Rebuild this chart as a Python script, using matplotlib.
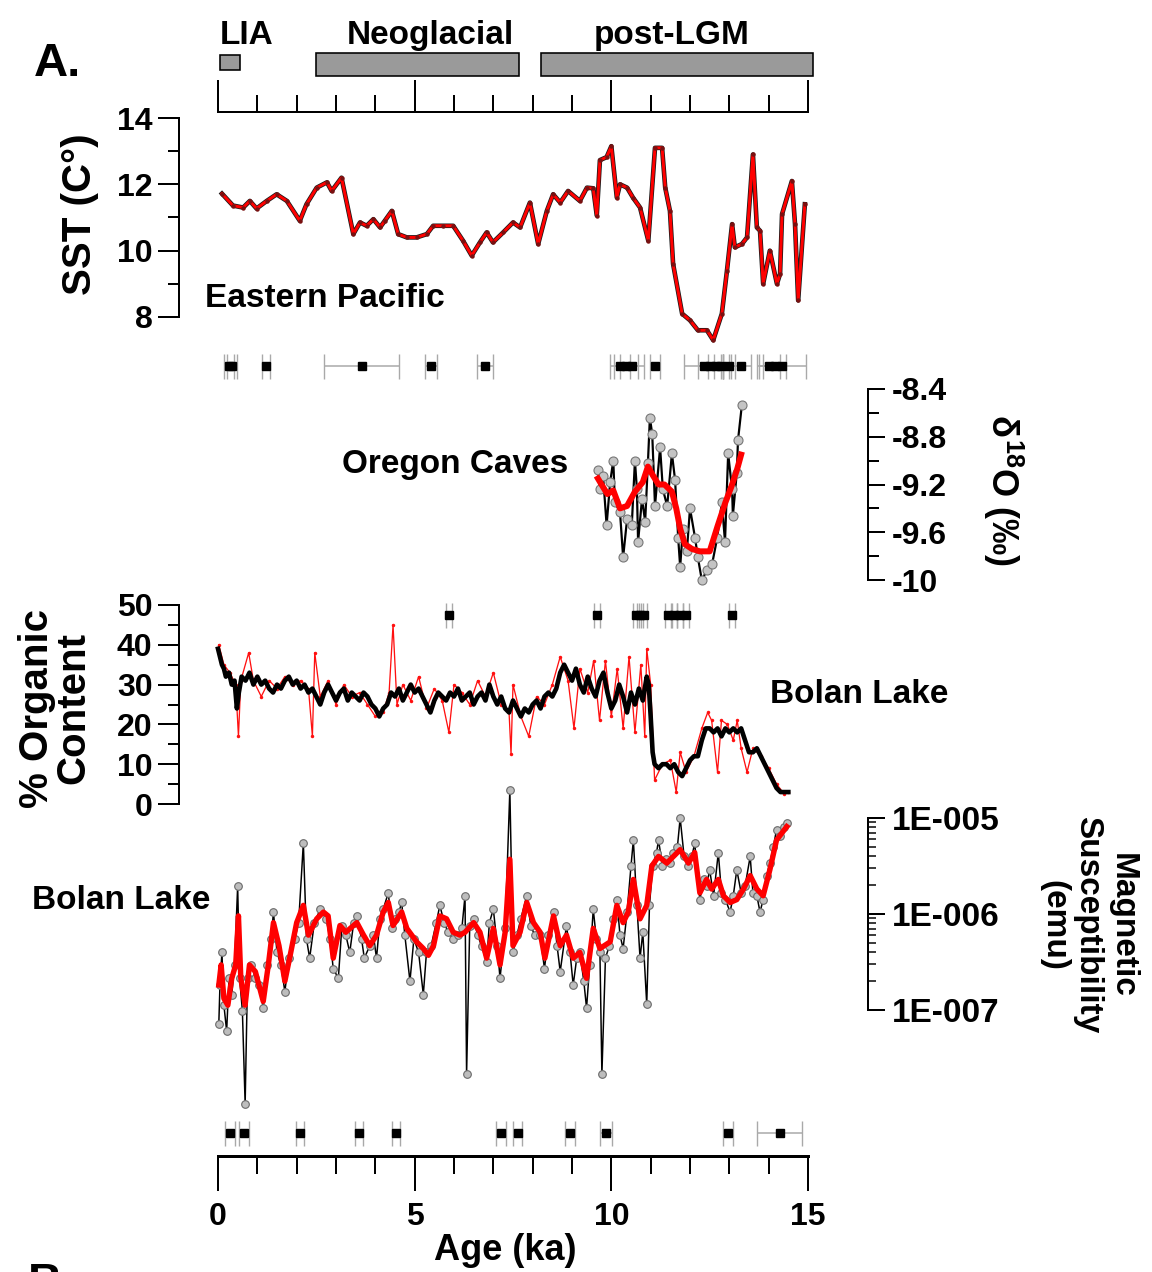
import matplotlib
matplotlib.use('Agg')
import matplotlib.pyplot as plt
from matplotlib.ticker import FixedLocator, FixedFormatter, NullFormatter

plt.rcParams['font.family'] = ['Liberation Sans', 'DejaVu Sans']
plt.rcParams['font.weight'] = 'bold'
plt.rcParams['axes.unicode_minus'] = False
plt.rcParams['mathtext.fontset'] = 'custom'
plt.rcParams['mathtext.rm'] = 'Liberation Sans:bold'
plt.rcParams['mathtext.it'] = 'Liberation Sans:bold'
plt.rcParams['mathtext.bf'] = 'Liberation Sans:bold'

# ---------------- data ----------------
period_names = ["LIA", "Neoglacial", "post-LGM"]
period_start = [0.05, 2.50, 8.20]
period_end = [0.55, 7.65, 15.12]

age_ticks_major = [0, 5, 10, 15]
age_ticks_minor = [1, 2, 3, 4, 6, 7, 8, 9, 11, 12, 13, 14]

sst_age = [0.10, 0.38, 0.64, 0.81, 0.98, 1.24, 1.49, 1.75, 2.08, 2.25, 2.51, 2.77, 2.89, 3.14,
           3.44, 3.61, 3.78, 3.95, 4.12, 4.24, 4.42, 4.58, 4.80, 5.05, 5.31, 5.47, 5.72, 5.98,
           6.23, 6.45, 6.66, 6.83, 6.99, 7.25, 7.50, 7.68, 7.93, 8.14, 8.36, 8.52, 8.70, 8.90,
           9.20, 9.38, 9.54, 9.63, 9.71, 9.88, 10.00, 10.14, 10.22, 10.40, 10.55, 10.73, 10.94,
           11.11, 11.29, 11.37, 11.49, 11.57, 11.80, 12.00, 12.20, 12.43, 12.59, 12.81, 12.94,
           13.07, 13.14, 13.32, 13.45, 13.60, 13.70, 13.78, 13.86, 14.03, 14.21, 14.29, 14.34,
           14.59, 14.67, 14.75, 14.92]
sst_val = [11.72, 11.36, 11.30, 11.50, 11.27, 11.50, 11.70, 11.50, 10.90, 11.40, 11.90, 12.06,
           11.80, 12.20, 10.50, 10.85, 10.75, 10.95, 10.70, 10.90, 11.20, 10.50, 10.40, 10.40,
           10.50, 10.75, 10.75, 10.75, 10.30, 9.85, 10.25, 10.55, 10.25, 10.55, 10.85, 10.70,
           11.45, 10.20, 11.20, 11.70, 11.45, 11.80, 11.50, 11.90, 11.88, 11.06, 12.73, 12.82,
           13.15, 11.60, 12.00, 11.90, 11.60, 11.30, 10.30, 13.10, 13.10, 11.90, 11.20, 9.60,
           8.10, 7.90, 7.60, 7.60, 7.30, 8.10, 9.40, 10.80, 10.10, 10.20, 10.40, 12.90, 10.70,
           10.60, 9.00, 10.00, 9.00, 9.30, 11.10, 12.10, 10.80, 8.50, 11.40]
sst_ticks = [8, 10, 12, 14]
sst_minor = [9, 11, 13]

sst_dates = [0.28, 0.36, 1.22, 3.65, 5.42, 6.79, 10.22, 10.38, 10.53, 11.11, 12.35, 12.50,
             12.65, 12.80, 13.00, 13.30, 14.00, 14.15, 14.35]
sst_date_err = [0.12, 0.12, 0.10, 0.95, 0.15, 0.20, 0.25, 0.30, 0.30, 0.12, 0.50, 0.30,
                0.20, 0.20, 0.15, 0.25, 0.30, 0.30, 0.60]

oc_age = [9.66, 9.71, 9.79, 9.88, 9.97, 10.05, 10.09, 10.22, 10.30, 10.40, 10.52, 10.60, 10.65,
          10.68, 10.78, 10.86, 10.93, 10.98, 11.04, 11.11, 11.24, 11.31, 11.42, 11.54, 11.62,
          11.70, 11.75, 11.82, 11.92, 12.00, 12.13, 12.20, 12.30, 12.43, 12.56, 12.69, 12.81,
          12.89, 12.97, 13.07, 13.09, 13.19, 13.22, 13.32]
oc_val = [-9.08, -9.24, -9.13, -9.54, -9.18, -9.00, -9.35, -9.43, -9.81, -9.49, -9.54, -9.00,
          -9.24, -9.68, -9.32, -9.51, -9.02, -8.64, -8.78, -9.38, -8.89, -9.24, -9.38, -8.94,
          -9.16, -9.65, -9.89, -9.57, -9.76, -9.40, -9.65, -9.81, -10.00, -9.92, -9.87, -9.65,
          -9.35, -9.68, -8.94, -9.24, -9.46, -9.10, -8.83, -8.53]
oc_smooth_age = [9.66, 9.75, 9.90, 10.05, 10.22, 10.40, 10.60, 10.80, 10.93, 11.05, 11.20, 11.35,
                 11.54, 11.65, 11.75, 11.87, 12.05, 12.25, 12.50, 12.70, 12.90, 13.05, 13.20, 13.30]
oc_smooth_val = [-9.15, -9.20, -9.28, -9.25, -9.40, -9.38, -9.26, -9.18, -9.05, -9.12, -9.20,
                 -9.20, -9.26, -9.40, -9.57, -9.70, -9.74, -9.76, -9.76, -9.55, -9.35, -9.22,
                 -9.07, -8.95]
oc_ticks = [-10, -9.6, -9.2, -8.8, -8.4]
oc_ticklabels = ["-10", "-9.6", "-9.2", "-8.8", "-8.4"]
oc_minor = [-9.8, -9.4, -9.0, -8.6]

org_smooth = [(0.00, 39), (0.05, 37), (0.10, 35), (0.15, 34), (0.20, 32), (0.28, 33), (0.35, 30),
              (0.42, 31), (0.48, 24), (0.53, 28), (0.60, 32), (0.70, 31), (0.80, 33), (0.90, 30),
              (1.00, 32), (1.10, 30), (1.20, 31), (1.30, 29), (1.40, 28), (1.50, 30), (1.60, 29),
              (1.70, 31), (1.80, 32), (1.90, 30), (2.00, 31), (2.10, 29), (2.20, 30), (2.30, 28),
              (2.40, 29), (2.50, 27), (2.60, 25), (2.70, 28), (2.80, 30), (2.90, 28), (3.00, 26),
              (3.10, 28), (3.20, 29), (3.30, 26), (3.40, 28), (3.50, 27), (3.60, 26), (3.70, 28),
              (3.80, 27), (3.90, 25), (4.00, 24), (4.10, 22), (4.20, 24), (4.30, 25), (4.40, 28),
              (4.50, 27), (4.60, 29), (4.70, 26), (4.80, 28), (4.90, 30), (5.00, 28), (5.10, 29),
              (5.20, 27), (5.30, 25), (5.40, 23), (5.50, 26), (5.60, 28), (5.70, 27), (5.80, 26),
              (5.90, 28), (6.00, 27), (6.10, 29), (6.20, 26), (6.30, 27), (6.40, 28), (6.50, 25),
              (6.60, 27), (6.70, 28), (6.80, 26), (6.90, 30), (7.00, 27), (7.10, 25), (7.20, 27),
              (7.30, 24), (7.40, 23), (7.50, 26), (7.60, 24), (7.70, 22), (7.80, 24), (7.90, 23),
              (8.00, 25), (8.10, 26), (8.20, 24), (8.30, 27), (8.40, 28), (8.50, 27), (8.60, 29),
              (8.70, 33), (8.80, 35), (8.90, 33), (9.00, 31), (9.10, 34), (9.20, 30), (9.30, 28),
              (9.40, 32), (9.50, 29), (9.60, 27), (9.70, 31), (9.80, 33), (9.90, 28), (10.00, 24),
              (10.10, 26), (10.20, 30), (10.30, 27), (10.40, 23), (10.50, 28), (10.60, 25),
              (10.70, 29), (10.80, 26), (10.90, 32), (10.95, 30), (11.00, 22), (11.05, 13),
              (11.10, 10), (11.20, 9), (11.30, 10), (11.40, 10), (11.50, 9), (11.60, 10),
              (11.70, 8), (11.80, 7), (11.90, 9), (12.00, 11), (12.10, 12), (12.20, 12),
              (12.30, 16), (12.40, 19), (12.50, 19), (12.60, 18), (12.70, 19), (12.80, 17),
              (12.90, 19), (13.00, 18), (13.10, 19), (13.20, 18), (13.30, 19), (13.40, 16),
              (13.50, 13), (13.60, 13), (13.70, 14), (13.80, 12), (13.90, 10), (14.00, 8),
              (14.10, 6), (14.20, 4), (14.30, 3), (14.40, 3), (14.50, 3)]
org_raw = [(0.02, 40), (0.15, 35), (0.30, 33), (0.45, 30), (0.52, 17), (0.58, 31), (0.78, 38),
           (0.90, 31), (1.10, 27), (1.30, 31), (1.50, 29), (1.70, 32), (1.90, 30), (2.10, 31),
           (2.30, 29), (2.40, 17), (2.46, 38), (2.60, 27), (2.80, 31), (3.00, 25), (3.20, 30),
           (3.40, 27), (3.60, 28), (3.80, 25), (4.00, 22), (4.20, 23), (4.35, 28), (4.45, 45),
           (4.55, 25), (4.70, 30), (4.90, 26), (5.10, 32), (5.30, 24), (5.50, 29), (5.70, 26),
           (5.87, 18), (6.00, 30), (6.20, 28), (6.40, 25), (6.60, 31), (6.80, 27), (7.00, 33),
           (7.20, 25), (7.40, 23), (7.45, 12.5), (7.50, 30), (7.70, 22), (7.90, 17), (8.10, 27),
           (8.30, 25), (8.50, 30), (8.70, 37), (8.90, 31), (9.05, 19), (9.20, 34), (9.40, 28),
           (9.55, 36), (9.70, 21), (9.85, 36), (10.00, 22), (10.15, 34), (10.30, 19), (10.45, 37),
           (10.60, 18), (10.75, 35), (10.85, 17), (10.90, 39), (11.00, 30), (11.10, 6),
           (11.30, 10), (11.50, 11), (11.65, 3), (11.75, 13), (11.90, 8), (12.10, 12),
           (12.30, 19), (12.45, 23), (12.55, 21), (12.70, 8), (12.80, 21), (12.95, 20),
           (13.10, 16), (13.20, 21), (13.30, 14), (13.45, 8), (13.60, 14), (13.80, 12),
           (14.00, 9), (14.20, 5), (14.40, 2.5), (14.50, 3)]
org_ticks = [0, 10, 20, 30, 40, 50]
org_minor = [5, 15, 25, 35, 45]

org_dates = [5.87, 9.64, 10.62, 10.72, 10.83, 11.45, 11.60, 11.75, 11.90, 13.07]
org_date_err = [0.08, 0.08, 0.08, 0.08, 0.08, 0.08, 0.08, 0.08, 0.08, 0.08]

# magnetic susceptibility, log10(emu)
mag_raw = [(0.02, -7.15), (0.05, -6.74), (0.10, -6.40), (0.15, -6.95), (0.22, -7.22),
           (0.28, -6.67), (0.35, -6.84), (0.42, -6.53), (0.50, -5.71), (0.55, -6.67),
           (0.62, -7.01), (0.69, -7.98), (0.75, -6.67), (0.85, -6.53), (0.95, -6.67),
           (1.05, -6.74), (1.15, -6.98), (1.25, -6.53), (1.35, -6.26), (1.41, -5.98),
           (1.50, -6.40), (1.60, -6.53), (1.70, -6.81), (1.80, -6.46), (1.95, -6.26),
           (2.05, -6.09), (2.17, -5.26), (2.25, -6.26), (2.33, -6.46), (2.45, -6.09),
           (2.60, -5.95), (2.75, -6.05), (2.85, -6.26), (2.93, -6.57), (3.06, -6.67),
           (3.15, -6.12), (3.25, -6.22), (3.35, -6.40), (3.45, -6.09), (3.53, -6.02),
           (3.65, -6.26), (3.72, -6.46), (3.86, -6.33), (3.95, -6.22), (4.03, -6.46),
           (4.12, -6.05), (4.20, -5.95), (4.33, -5.78), (4.42, -6.15), (4.50, -6.05),
           (4.60, -5.98), (4.67, -5.88), (4.75, -6.22), (4.88, -6.70), (4.98, -6.26),
           (5.10, -6.40), (5.22, -6.84), (5.30, -6.40), (5.42, -6.33), (5.55, -6.09),
           (5.64, -5.91), (5.75, -6.09), (5.85, -6.19), (5.98, -6.26), (6.10, -6.22),
           (6.20, -6.15), (6.28, -5.81), (6.32, -7.67), (6.40, -6.12), (6.50, -6.05),
           (6.60, -6.22), (6.70, -6.33), (6.83, -6.50), (6.90, -6.09), (7.00, -5.95),
           (7.10, -6.33), (7.17, -6.67), (7.30, -6.15), (7.42, -4.71), (7.50, -6.40),
           (7.60, -6.22), (7.70, -6.05), (7.85, -5.81), (7.95, -6.12), (8.05, -6.22),
           (8.19, -6.22), (8.30, -6.57), (8.40, -6.22), (8.53, -5.98), (8.62, -6.33),
           (8.70, -6.60), (8.86, -6.12), (8.95, -6.40), (9.03, -6.74), (9.12, -6.46),
           (9.20, -6.40), (9.30, -6.70), (9.37, -6.98), (9.45, -6.53), (9.54, -5.95),
           (9.62, -6.26), (9.71, -6.40), (9.76, -7.67), (9.85, -6.46), (9.95, -6.33),
           (10.05, -6.05), (10.14, -5.85), (10.22, -6.22), (10.30, -6.36), (10.40, -5.98),
           (10.50, -5.50), (10.56, -5.23), (10.65, -5.91), (10.73, -6.46), (10.80, -6.19),
           (10.90, -6.94), (10.97, -5.91), (11.05, -5.50), (11.15, -5.36), (11.20, -5.23),
           (11.30, -5.50), (11.40, -5.43), (11.50, -5.47), (11.58, -5.36), (11.68, -5.30),
           (11.75, -5.00), (11.85, -5.40), (11.96, -5.50), (12.05, -5.40), (12.12, -5.26),
           (12.25, -5.85), (12.35, -5.64), (12.42, -5.71), (12.50, -5.54), (12.60, -5.81),
           (12.72, -5.36), (12.80, -5.78), (12.90, -5.85), (13.02, -5.98), (13.10, -5.81),
           (13.19, -5.54), (13.30, -5.78), (13.40, -5.71), (13.53, -5.40), (13.60, -5.78),
           (13.70, -5.81), (13.78, -5.98), (13.86, -5.85), (13.95, -5.60), (14.03, -5.47),
           (14.12, -5.30), (14.20, -5.12), (14.30, -5.19), (14.40, -5.09), (14.46, -5.05)]
mag_smooth = [(0.02, -6.74), (0.08, -6.53), (0.15, -6.88), (0.25, -6.95), (0.35, -6.67),
              (0.45, -6.53), (0.52, -6.02), (0.58, -6.67), (0.69, -6.95), (0.80, -6.53),
              (0.95, -6.60), (1.15, -6.91), (1.28, -6.53), (1.41, -6.09), (1.55, -6.33),
              (1.70, -6.70), (1.85, -6.40), (2.00, -6.09), (2.17, -5.91), (2.30, -6.22),
              (2.51, -6.05), (2.68, -5.98), (2.80, -6.02), (2.93, -6.46), (3.10, -6.12),
              (3.25, -6.19), (3.53, -6.09), (3.70, -6.22), (3.86, -6.33), (4.03, -6.22),
              (4.20, -5.98), (4.33, -5.88), (4.45, -6.12), (4.67, -5.98), (4.80, -6.15),
              (5.05, -6.29), (5.22, -6.36), (5.35, -6.43), (5.48, -6.33), (5.64, -6.02),
              (5.81, -6.05), (5.98, -6.19), (6.15, -6.22), (6.28, -6.19), (6.50, -6.09),
              (6.66, -6.19), (6.83, -6.46), (7.00, -6.15), (7.17, -6.53), (7.30, -6.19),
              (7.42, -5.43), (7.50, -6.33), (7.68, -6.19), (7.85, -5.88), (8.02, -6.09),
              (8.19, -6.19), (8.31, -6.46), (8.53, -6.02), (8.70, -6.33), (8.86, -6.22),
              (9.03, -6.46), (9.20, -6.40), (9.37, -6.67), (9.54, -6.15), (9.71, -6.36),
              (9.97, -6.29), (10.14, -5.91), (10.30, -6.09), (10.43, -5.98), (10.56, -5.64),
              (10.73, -6.05), (10.90, -5.91), (11.03, -5.50), (11.20, -5.40), (11.41, -5.47),
              (11.58, -5.40), (11.75, -5.33), (11.96, -5.47), (12.12, -5.36), (12.25, -5.78),
              (12.42, -5.64), (12.55, -5.74), (12.72, -5.64), (12.85, -5.81), (13.02, -5.88),
              (13.19, -5.85), (13.36, -5.74), (13.53, -5.60), (13.70, -5.74), (13.86, -5.81),
              (14.03, -5.54), (14.20, -5.23), (14.46, -5.09)]
mag_ticks = [1e-7, 1e-6, 1e-5]
mag_ticklabels = ["1E-007", "1E-006", "1E-005"]

mag_dates = [0.30, 0.66, 2.08, 3.58, 4.53, 7.19, 7.62, 8.95, 9.86, 12.97, 14.28]
mag_date_err = [0.12, 0.12, 0.10, 0.10, 0.10, 0.12, 0.12, 0.12, 0.15, 0.12, 0.58]

# ---------------- layout helpers (pixel based) ----------------
W, H = 1152, 1272
X0, X1 = 218, 808
PT = 0.72  # points per pixel at dpi 100
fig = plt.figure(figsize=(W / 100, H / 100), dpi=100)
fig.patch.set_facecolor('white')


def px_axes(top, bottom):
    ax = fig.add_axes([X0 / W, 1 - bottom / H, (X1 - X0) / W, (bottom - top) / H])
    ax.set_facecolor('none')
    for s in ax.spines.values():
        s.set_visible(False)
        s.set_linewidth(2 * PT)
    ax.set_xlim(0, 15)
    ax.tick_params(left=False, right=False, top=False, bottom=False,
                   labelleft=False, labelbottom=False)
    return ax


def lin_axes(vlo, vhi, a, pa, b, pb):
    scale = (pb - pa) / (b - a)
    top = pa + (vhi - a) * scale
    bottom = pa + (vlo - a) * scale
    ax = px_axes(top, bottom)
    ax.set_ylim(vlo, vhi)
    return ax


def fxy(px, py):
    return px / W, 1 - py / H


TICK = 23
LAB = 24

# ---------------- period bars + top axis ----------------
axb = px_axes(20, 112)
axb.set_ylim(0, 92)
for name, s, e in zip(period_names, period_start, period_end):
    if name == "LIA":
        y0, hgt = 42, 15
    else:
        y0, hgt = 36, 23
    axb.add_patch(plt.Rectangle((s, y0), e - s, hgt, facecolor='#9a9a9a',
                                edgecolor='black', lw=1.6 * PT, clip_on=False))
axb.spines['bottom'].set_visible(True)
axb.xaxis.set_major_locator(FixedLocator(age_ticks_major))
axb.xaxis.set_minor_locator(FixedLocator(age_ticks_minor))
axb.tick_params(axis='x', which='major', bottom=True, direction='in', length=23, width=2 * PT)
axb.tick_params(axis='x', which='minor', bottom=True, direction='in', length=12, width=2 * PT)

fig.text(*fxy(220, 44), period_names[0], ha='left', va='baseline', fontsize=LAB)
fig.text(*fxy(430, 44), period_names[1], ha='center', va='baseline', fontsize=LAB)
fig.text(*fxy(672, 44), period_names[2], ha='center', va='baseline', fontsize=LAB)
fig.text(*fxy(34, 76), "A.", ha='left', va='baseline', fontsize=34)

# ---------------- SST ----------------
ax = lin_axes(7.0, 14.3, 14, 118, 8, 317)
ax.plot(sst_age, sst_val, color='#1a1a1a', lw=4.6 * PT, clip_on=False, zorder=2)
ax.plot(sst_age, sst_val, color='#ff0000', lw=3.0 * PT, marker='o', ms=3.2,
        mfc='#7a1010', mec='none', clip_on=False, zorder=3)
ax.spines['left'].set_visible(True)
ax.spines['left'].set_position(('outward', 39 * PT))
ax.spines['left'].set_bounds(8, 14)
ax.yaxis.set_major_locator(FixedLocator(sst_ticks))
ax.yaxis.set_minor_locator(FixedLocator(sst_minor))
ax.yaxis.set_major_formatter(FixedFormatter([str(t) for t in sst_ticks]))
ax.tick_params(axis='y', which='major', left=True, labelleft=True, direction='out',
               length=15, width=2 * PT, labelsize=TICK, pad=4)
ax.tick_params(axis='y', which='minor', left=True, direction='out', length=8, width=2 * PT)
fig.text(*fxy(80, 214), "SST (C°)", rotation=90, ha='center', va='center', fontsize=29)
fig.text(*fxy(205, 307), "Eastern Pacific", ha='left', va='baseline', fontsize=LAB)


def dating_row(center_py, ages, errs):
    axd = px_axes(center_py - 15, center_py + 15)
    axd.set_ylim(0, 1)
    axd.errorbar(ages, [0.5] * len(ages), xerr=errs, fmt='s', color='black', ms=6,
                 ecolor='#a9a9a9', elinewidth=1.1, capsize=9, capthick=1.0, clip_on=False)


dating_row(366, sst_dates, sst_date_err)

# ---------------- Oregon Caves ----------------
ax = lin_axes(-10.08, -8.35, -8.4, 389, -10, 580)
ax.plot(oc_age, oc_val, color='black', lw=2.2 * PT, marker='o', ms=6.5, mfc='#c4c4c4',
        mec='#777777', mew=0.8, clip_on=False, zorder=2)
ax.plot(oc_smooth_age, oc_smooth_val, color='#ff0000', lw=6 * PT, clip_on=False, zorder=3)
ax.spines['right'].set_visible(True)
ax.spines['right'].set_position(('outward', 60 * PT))
ax.spines['right'].set_bounds(-10, -8.4)
ax.yaxis.set_major_locator(FixedLocator(oc_ticks))
ax.yaxis.set_minor_locator(FixedLocator(oc_minor))
ax.yaxis.set_major_formatter(FixedFormatter(oc_ticklabels))
ax.yaxis.set_ticks_position('right')
ax.tick_params(axis='y', which='major', right=True, labelright=True, left=False, labelleft=False,
               direction='out', length=12, width=2 * PT, labelsize=TICK, pad=5)
ax.tick_params(axis='y', which='minor', right=True, left=False, direction='out', length=8,
               width=2 * PT)
fig.text(*fxy(1003, 490), r"$\delta^{18}$O (‰)", rotation=270, ha='center', va='center',
         fontsize=26)
fig.text(*fxy(342, 473), "Oregon Caves", ha='left', va='baseline', fontsize=LAB)

# ---------------- Organic content ----------------
org_age, org_val = zip(*org_smooth)
org_raw_age, org_raw_val = zip(*org_raw)
ax = lin_axes(-1, 52, 50, 605, 0, 804)
ax.plot(org_raw_age, org_raw_val, color='#ff1010', lw=1.3 * PT, marker='o', ms=2.5,
        mec='none', clip_on=False, zorder=2)
ax.plot(org_age, org_val, color='black', lw=4.6 * PT, clip_on=False, zorder=3)
ax.spines['left'].set_visible(True)
ax.spines['left'].set_position(('outward', 39 * PT))
ax.spines['left'].set_bounds(0, 50)
ax.yaxis.set_major_locator(FixedLocator(org_ticks))
ax.yaxis.set_minor_locator(FixedLocator(org_minor))
ax.yaxis.set_major_formatter(FixedFormatter([str(t) for t in org_ticks]))
ax.tick_params(axis='y', which='major', left=True, labelleft=True, direction='out',
               length=15, width=2 * PT, labelsize=TICK, pad=4)
ax.tick_params(axis='y', which='minor', left=True, direction='out', length=8, width=2 * PT)
fig.text(*fxy(55, 708), "% Organic\nContent", rotation=90, ha='center', va='center',
         fontsize=29, linespacing=0.95, multialignment='center')
fig.text(*fxy(770, 703), "Bolan Lake", ha='left', va='baseline', fontsize=LAB)

dating_row(615, org_dates, org_date_err)

# ---------------- Magnetic susceptibility ----------------
mag_age, mag_log = zip(*mag_raw)
mag_s_age, mag_s_log = zip(*mag_smooth)
mag_v = [10 ** v for v in mag_log]
mag_s_v = [10 ** v for v in mag_s_log]
DEC = 96  # pixels per decade
top = 818 - 0.45 * DEC
bottom = 818 + 3.1 * DEC
ax = px_axes(top, bottom)
ax.set_yscale('log')
ax.set_ylim(10 ** -8.1, 10 ** -4.55)
ax.plot(mag_age, mag_v, color='black', lw=1.5 * PT, marker='o', ms=5.5, mfc='#bdbdbd',
        mec='#6a6a6a', mew=0.8, clip_on=False, zorder=2)
ax.plot(mag_s_age, mag_s_v, color='#ff0000', lw=5.4 * PT, clip_on=False, zorder=3)
ax.spines['right'].set_visible(True)
ax.spines['right'].set_position(('outward', 60 * PT))
ax.spines['right'].set_bounds(1e-7, 1e-5)
ax.yaxis.set_major_locator(FixedLocator(mag_ticks))
ax.yaxis.set_major_formatter(FixedFormatter(mag_ticklabels))
ax.yaxis.set_minor_locator(FixedLocator([k * d for d in (1e-7, 1e-6) for k in range(2, 10)]))
ax.yaxis.set_minor_formatter(NullFormatter())
ax.yaxis.set_ticks_position('right')
ax.tick_params(axis='y', which='major', right=True, labelright=True, left=False, labelleft=False,
               direction='out', length=12, width=2 * PT, labelsize=24, pad=5)
ax.tick_params(axis='y', which='minor', right=True, left=False, direction='out', length=6,
               width=1.5 * PT)
fig.text(*fxy(1088, 925), "Magnetic\nSusceptibility\n(emu)", rotation=270, ha='center',
         va='center', fontsize=24, linespacing=1.12, multialignment='center')
fig.text(*fxy(32, 909), "Bolan Lake", ha='left', va='baseline', fontsize=LAB)

dating_row(1133, mag_dates, mag_date_err)

# ---------------- bottom age axis ----------------
axa = px_axes(1146, 1156)
axa.spines['bottom'].set_visible(True)
axa.spines['bottom'].set_linewidth(3 * PT)
axa.xaxis.set_major_locator(FixedLocator(age_ticks_major))
axa.xaxis.set_minor_locator(FixedLocator(age_ticks_minor))
axa.xaxis.set_major_formatter(FixedFormatter([str(t) for t in age_ticks_major]))
axa.tick_params(axis='x', which='major', bottom=True, labelbottom=True, direction='out',
                length=25, width=2 * PT, labelsize=TICK, pad=8)
axa.tick_params(axis='x', which='minor', bottom=True, direction='out', length=13, width=2 * PT)
fig.text(*fxy(505, 1251), "Age (ka)", ha='center', va='center', fontsize=26)
fig.text(*fxy(28, 1262), "B.", ha='left', va='top', fontsize=34)

fig.savefig('out.png', dpi=100, facecolor='white')
